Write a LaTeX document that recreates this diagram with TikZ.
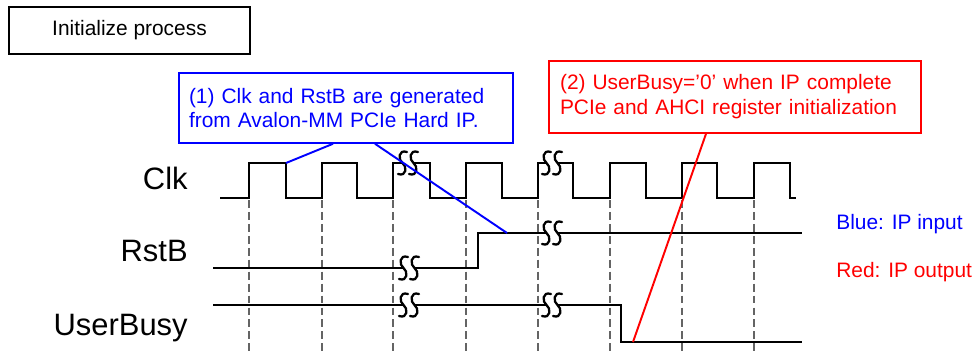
\documentclass[tikz,border=0pt]{standalone}
\usepackage{fontspec}
\setmainfont{Liberation Sans}
\definecolor{dashgray}{RGB}{100,100,100}
\definecolor{pureblue}{RGB}{0,0,255}
\definecolor{purered}{RGB}{255,0,0}
\tikzset{
  sig/.style={line width=1.2pt, black, line join=miter},
  gridline/.style={dashgray, line width=1.1pt, dash pattern=on 4.5pt off 2.3pt},
  faint/.style={draw=gray!55, line width=0.35pt, double=white, double distance=0.7pt},
  note/.style={draw, line width=0.9pt, font=\fontsize{11.9}{14.2}\selectfont, align=left, anchor=center},
  lbl/.style={font=\fontsize{17.6}{20}\selectfont, anchor=base east, inner sep=0pt},
  legend/.style={font=\fontsize{11.9}{14.2}\selectfont, anchor=base west, inner sep=0pt},
  brk/.pic={
    \fill[white] (-5.5,-3) rectangle (5.5,3);
    \foreach \dx in {-5.5,5.5}{
      \draw[line width=1.3pt, black, line cap=round] (\dx+4.5,-11) .. controls (\dx-4.5,-14) and (\dx-4.5,-3) .. (\dx,0)
        .. controls (\dx+4.5,3) and (\dx+4.5,14) .. (\dx-4.5,11);
    }
  }
}
\begin{document}
\begin{tikzpicture}[x=0.02cm,y=-0.02cm]
\useasboundingbox (0,0) rectangle (976,352);

% title box
\node[note, line width=0.8pt, minimum width=4.82cm, minimum height=0.94cm, inner sep=0pt, align=center] (init) at (129.5,30.5) {Initialize process};

% annotation boxes
\node[note, draw=pureblue, text=pureblue, text width=6.28cm, inner xsep=0.2cm, inner ysep=0pt, minimum height=1.4cm] (b1) at (346,108)
  {(1) Clk and RstB are generated\\from Avalon-MM PCIe Hard IP.};
\node[note, draw=purered, text=purered, text width=7.0cm, inner xsep=0.22cm, inner ysep=0pt, minimum height=1.44cm] (r1) at (735,97)
  {(2) UserBusy=’0’ when IP complete\\PCIe and AHCI register initialization};

% signal labels
\node[lbl] (lclk) at (188,189) {Clk};
\node[lbl] (lrst) at (188,261) {RstB};
\node[lbl] (lub) at (188,335) {UserBusy};

% legend
\node[legend, text=pureblue] (lgb) at (836,229) {Blue: IP input};
\node[legend, text=purered] (lgr) at (836,277) {Red: IP output};

% faint guide lines
\draw[faint] (478,268) -- (747,268);
\draw[faint] (213,342) -- (621,342);

% dashed time markers
\foreach \t in {249,322,393,466,538,610,682,754}{
  \draw[gridline] (\t,200) -- (\t,352);
}

% Clk
\draw[sig] (220,198) -| (249,163) -| (286,198) -| (322,163) -| (357,198) -| (393,163)
  -| (430,198) -| (466,163) -| (502,198) -| (538,163) -| (573,198) -| (610,163)
  -| (646,198) -| (682,163) -| (717,198) -| (754,163) -| (790,198) -- (796,198);
% RstB
\draw[sig] (213,268) -- (478,268) -- (478,233) -- (802,233);
% UserBusy
\draw[sig] (213,305) -- (621,305) -- (621,342) -- (802,342);

% breaks
\pic at (408,163) {brk};
\pic at (552,163) {brk};
\pic at (409,268) {brk};
\pic at (552,233) {brk};
\pic at (409,305) {brk};
\pic at (552,305) {brk};

% connectors
\coordinate (clkfall) at (286,163);
\coordinate (rsthigh) at (507,233);
\coordinate (ublow) at (633,342);
\draw[pureblue, line width=1.1pt] ([xshift=-0.26cm]b1.south) -- (clkfall);
\draw[pureblue, line width=1.1pt] ([xshift=0.58cm]b1.south) -- (rsthigh);
\draw[purered, line width=1.1pt] ([xshift=-0.58cm]r1.south) -- (ublow);
\end{tikzpicture}
\end{document}
